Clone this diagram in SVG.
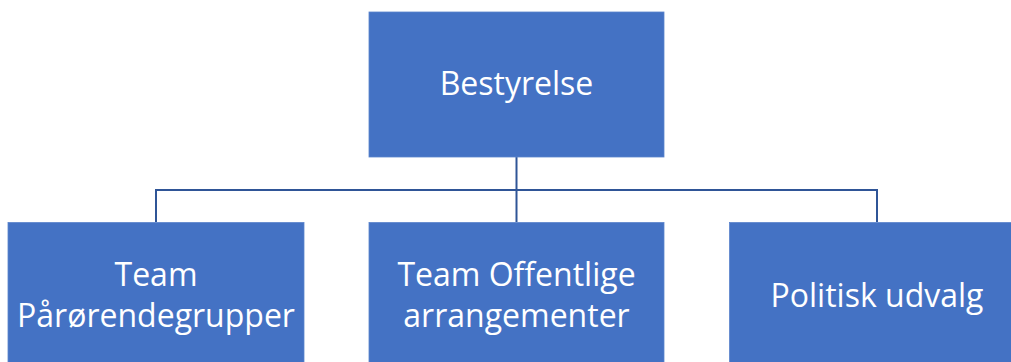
<svg xmlns="http://www.w3.org/2000/svg" width="1011" height="362" viewBox="0 0 1011 362">
<style>
.box{fill:#4472C4;stroke:#5B84CC;stroke-width:0.8}
.lbl{fill:#FFFFFF;font-family:"Open Sans","Noto Sans",sans-serif;font-size:32px;text-anchor:middle}
.conn{fill:none;stroke:#2F5597;stroke-width:2}
</style>
<rect width="1011" height="362" fill="#FFFFFF"/>
<g id="connectors">
<path class="conn" d="M516.5 157 V222"/>
<path class="conn" d="M156 222 V190 H877 V222"/>
</g>
<g id="node-bestyrelse">
<rect class="box" x="369" y="12" width="295" height="145"/>
<text class="lbl" x="516.5" y="95">Bestyrelse</text>
</g>
<g id="node-team-parorendegrupper">
<rect class="box" x="8" y="222.5" width="296" height="145"/>
<text class="lbl" x="156" y="286">Team</text>
<text class="lbl" x="156" y="326.5">Pårørendegrupper</text>
</g>
<g id="node-team-offentlige">
<rect class="box" x="369" y="222.5" width="295" height="145"/>
<text class="lbl" x="516.5" y="286">Team Offentlige</text>
<text class="lbl" x="516.5" y="326.5">arrangementer</text>
</g>
<g id="node-politisk-udvalg">
<rect class="box" x="729.5" y="222.5" width="295" height="145"/>
<text class="lbl" x="877" y="306.5">Politisk udvalg</text>
</g>
</svg>
